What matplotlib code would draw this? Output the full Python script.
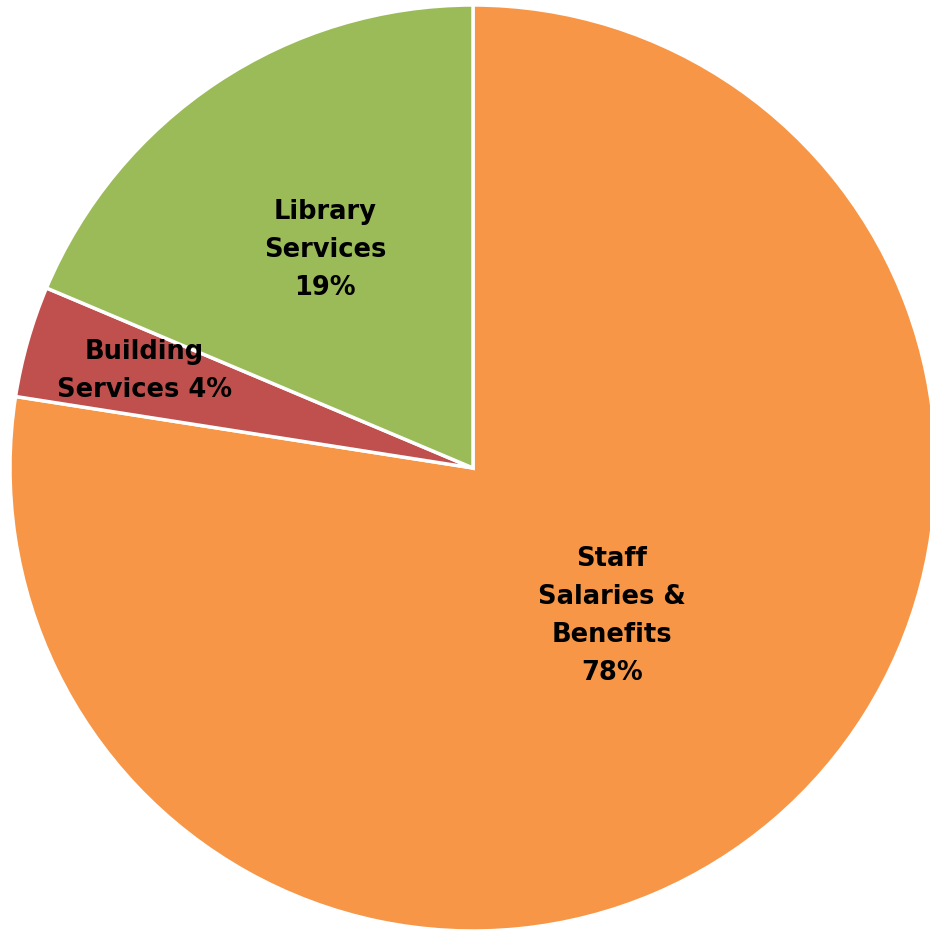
import matplotlib.pyplot as plt

# data (slice sizes estimated from the drawn angles)
labels = ['Staff\nSalaries &\nBenefits\n78%', 'Building\nServices 4%', 'Library\nServices\n19%']
values = [77.7, 3.9, 18.7]
colors = ['#F79646', '#C0504D', '#9BBB59']
label_pos = [(0.30, -0.32), (-0.71, 0.21), (-0.32, 0.47)]

fig = plt.figure(figsize=(9.3, 9.33), dpi=100)
ax = fig.add_axes([10/930, 2/933, 926/930, 926/933])

wedges, _ = ax.pie(values, colors=colors, startangle=90, counterclock=False,
                   radius=1.0, wedgeprops=dict(edgecolor='white', linewidth=2.5))

for lab, (x, y) in zip(labels, label_pos):
    ax.text(x, y, lab, ha='center', va='center', fontsize=18.5, fontweight='bold',
            family=['DejaVu Sans'], linespacing=1.6)

ax.set_xlim(-1, 1)
ax.set_ylim(-1, 1)
ax.set_aspect('equal')
ax.axis('off')

fig.savefig('out.png', dpi=100)
